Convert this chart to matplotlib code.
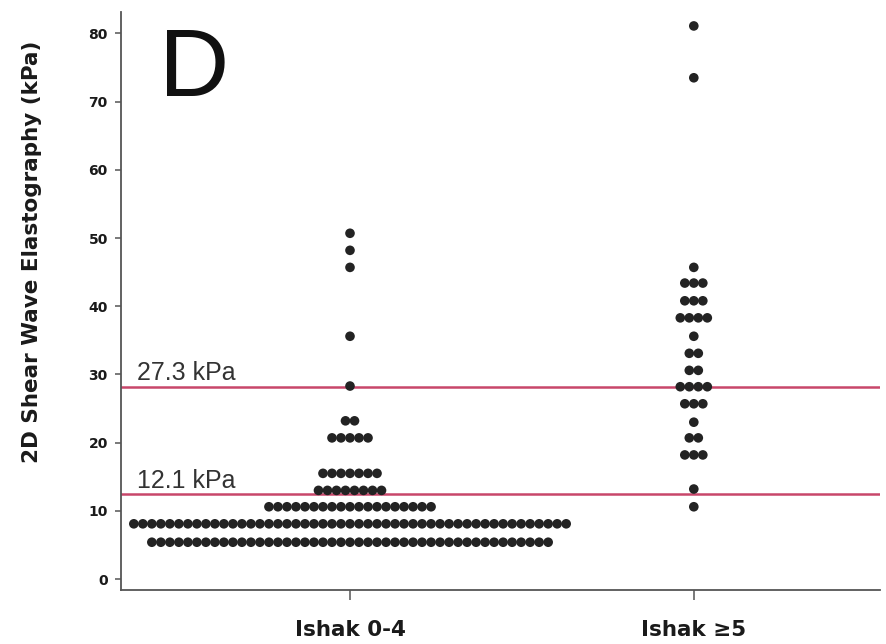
import numpy as np
import matplotlib
matplotlib.use("Agg")
import matplotlib.pyplot as plt

plt.rcParams['font.family'] = ['Liberation Sans', 'DejaVu Sans']

categories = ["Ishak 0-4", "Ishak \u22655"]

# Dot-plot rows: value (kPa) and number of patients in that bin
ishak04_values = [5.4, 8.1, 10.6, 13.0, 15.5, 20.7, 23.2, 28.3, 35.6, 45.7, 48.2, 50.7]
ishak04_counts = [45, 49, 19, 8, 7, 5, 2, 1, 1, 1, 1, 1]

ishak5_values = [10.6, 13.2, 18.2, 20.7, 23.0, 25.7, 28.2, 30.6, 33.1, 35.6, 38.3, 40.8, 43.4, 45.7, 73.5, 81.1]
ishak5_counts = [1, 1, 3, 2, 1, 3, 4, 2, 2, 1, 4, 3, 3, 1, 1, 1]

# cut-off lines as drawn in the figure, and their labels
cutoff_lines = [12.4, 28.2]
cutoff_labels = ["12.1 kPa", "27.3 kPa"]

yticks = [0, 10, 20, 30, 40, 50, 60, 70, 80]

fig = plt.figure(figsize=(8.86, 6.44), dpi=100)
ax = fig.add_axes([0.1366, 0.0839, 0.8564, 0.897])

spacing = 0.0262
dot_color = "#232323"
for ci, (vals, cnts) in enumerate([(ishak04_values, ishak04_counts), (ishak5_values, ishak5_counts)]):
    xs, ys = [], []
    for v, n in zip(vals, cnts):
        offs = (np.arange(n) - (n - 1) / 2.0) * spacing
        xs.extend(ci + offs)
        ys.extend([v] * n)
    ax.scatter(xs, ys, s=48, color=dot_color, edgecolors='none', zorder=3)

line_color = "#c8466a"
for c, lab in zip(cutoff_lines, cutoff_labels):
    ax.axhline(c, color=line_color, lw=1.8, zorder=2)
    ax.text(-0.620, c + 0.25, lab, fontsize=18, color="#333333", ha='left', va='bottom')

ax.text(-0.556, 81.1, "D", fontsize=70, color="#111111", ha='left', va='top')

bold_font = ['DejaVu Sans']
ax.set_xlim(-0.666, 1.541)
ax.set_ylim(-1.6, 83.1)
ax.set_xticks([0, 1])
ax.set_xticklabels(categories, fontsize=15.5, fontweight='bold', color="#1a1a1a", family=bold_font)
ax.set_yticks(yticks)
ax.set_yticklabels([str(t) for t in yticks], fontsize=10, fontweight='bold', color="#1a1a1a", family=bold_font)
ax.set_ylabel("2D Shear Wave Elastography (kPa)", fontsize=15.5, fontweight='bold', color="#1a1a1a", family=bold_font)
ax.yaxis.set_label_coords(-0.104, 0.585)

for s in ['top', 'right']:
    ax.spines[s].set_visible(False)
for s in ['left', 'bottom']:
    ax.spines[s].set_color("#555555")
    ax.spines[s].set_linewidth(1.3)
ax.tick_params(axis='y', length=4.5, width=1.1, color="#555555", pad=5)
ax.tick_params(axis='x', length=7.5, width=1.1, color="#555555", pad=14)

fig.savefig("out.png", dpi=100)
